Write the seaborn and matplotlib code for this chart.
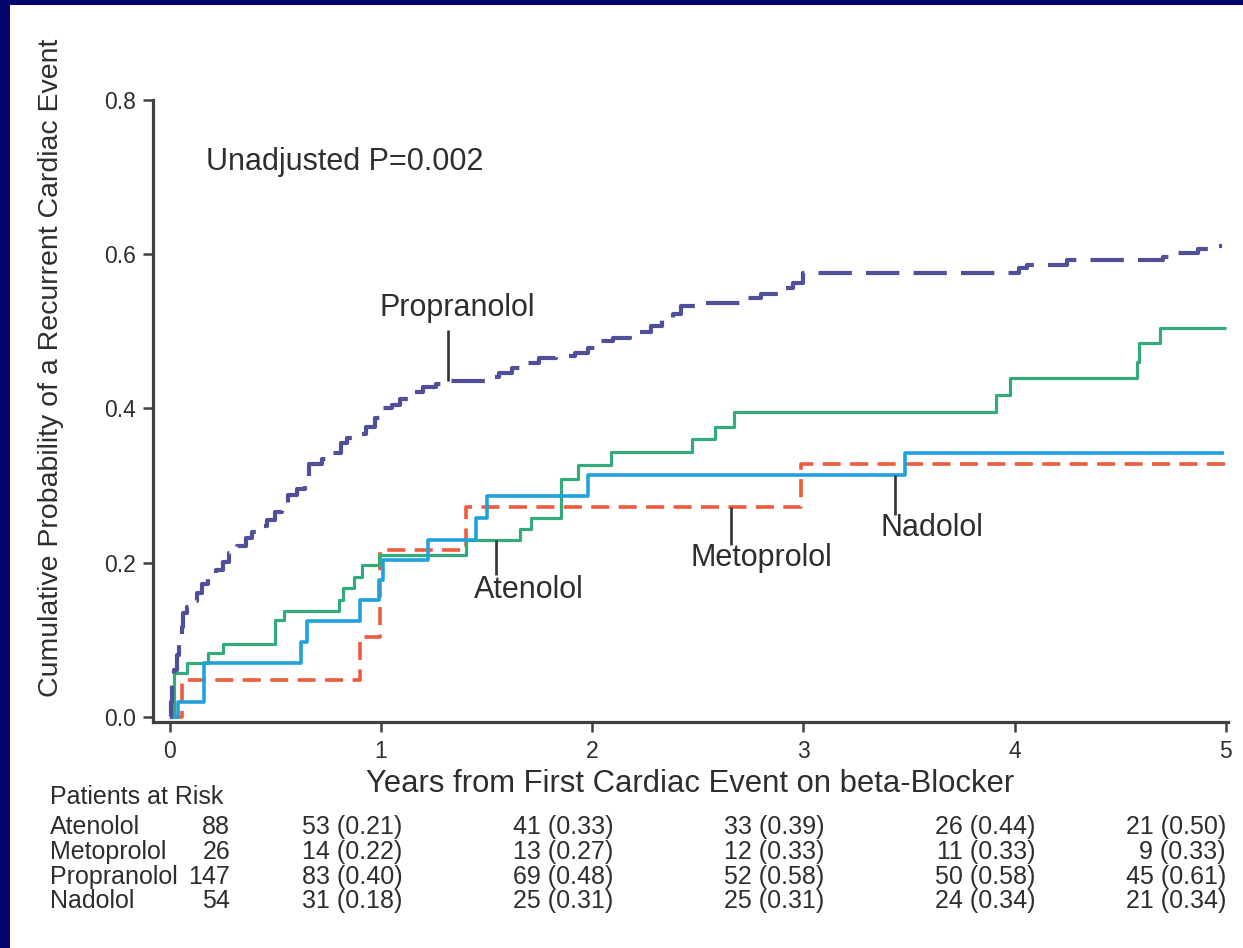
import matplotlib
matplotlib.use("Agg")
import matplotlib.pyplot as plt
import matplotlib.patches as mpatches
import matplotlib.transforms as mtransforms
import pandas as pd
import seaborn as sns

# Cumulative probability of a recurrent cardiac event (step after each event time, years)
atenolol_t = [0, 0.02, 0.08, 0.18, 0.25, 0.50, 0.54, 0.80, 0.82, 0.87, 0.91, 0.99,
              1.40, 1.66, 1.71, 1.85, 1.93, 2.09, 2.47, 2.58, 2.67, 3.91, 3.98,
              4.58, 4.59, 4.69, 5.0]
atenolol_p = [0, 0.057, 0.070, 0.083, 0.095, 0.126, 0.138, 0.152, 0.167, 0.182, 0.197, 0.210,
              0.230, 0.244, 0.258, 0.309, 0.327, 0.344, 0.360, 0.376, 0.396, 0.418, 0.440,
              0.460, 0.485, 0.505, 0.505]

metoprolol_t = [0, 0.057, 0.90, 0.995, 1.40, 2.99, 5.0]
metoprolol_p = [0, 0.048, 0.104, 0.216, 0.272, 0.328, 0.328]

nadolol_t = [0, 0.04, 0.16, 0.62, 0.65, 0.90, 0.99, 1.01, 1.22, 1.45, 1.50, 1.98, 3.48, 4.99]
nadolol_p = [0, 0.019, 0.070, 0.097, 0.125, 0.152, 0.178, 0.204, 0.230, 0.258, 0.286, 0.314, 0.342, 0.342]

propranolol_t = [0, 0.005, 0.01, 0.02, 0.035, 0.045, 0.055, 0.063, 0.08, 0.10, 0.13, 0.15,
                 0.18, 0.22, 0.25, 0.28, 0.32, 0.36, 0.39, 0.43, 0.46, 0.50, 0.53, 0.56,
                 0.60, 0.64, 0.66, 0.72, 0.76, 0.81, 0.84, 0.88, 0.93, 0.97, 1.00, 1.05,
                 1.09, 1.14, 1.20, 1.26, 1.30, 1.52, 1.56, 1.62, 1.69, 1.75, 1.83, 1.92,
                 1.98, 2.03, 2.10, 2.18, 2.28, 2.33, 2.38, 2.42, 2.53, 2.73, 2.80, 2.90,
                 2.95, 3.00, 4.02, 4.06, 4.25, 4.70, 4.77, 4.87, 4.95, 4.98]
propranolol_p = [0, 0.020, 0.048, 0.061, 0.080, 0.095, 0.117, 0.135, 0.143, 0.150, 0.161, 0.172,
                 0.182, 0.190, 0.201, 0.212, 0.222, 0.232, 0.240, 0.247, 0.256, 0.266, 0.278, 0.288,
                 0.295, 0.310, 0.328, 0.335, 0.342, 0.355, 0.362, 0.367, 0.376, 0.388, 0.400, 0.405,
                 0.412, 0.421, 0.428, 0.432, 0.436, 0.441, 0.446, 0.452, 0.459, 0.465, 0.468, 0.472,
                 0.478, 0.487, 0.492, 0.499, 0.507, 0.515, 0.523, 0.533, 0.537, 0.543, 0.548, 0.556,
                 0.563, 0.576, 0.582, 0.586, 0.592, 0.597, 0.601, 0.607, 0.611, 0.611]

# Patients at risk table: baseline count, then count (cumulative probability) at years 1-5
drugs = ["Atenolol", "Metoprolol", "Propranolol", "Nadolol"]
baseline_n = [88, 26, 147, 54]
atenolol_risk = [53, 41, 33, 26, 21]
atenolol_prob = [0.21, 0.33, 0.39, 0.44, 0.50]
metoprolol_risk = [14, 13, 12, 11, 9]
metoprolol_prob = [0.22, 0.27, 0.33, 0.33, 0.33]
propranolol_risk = [83, 69, 52, 50, 45]
propranolol_prob = [0.40, 0.48, 0.58, 0.58, 0.61]
nadolol_risk = [31, 25, 25, 24, 21]
nadolol_prob = [0.18, 0.31, 0.31, 0.34, 0.34]

x_ticks = [0, 1, 2, 3, 4, 5]
y_ticks = [0.0, 0.2, 0.4, 0.6, 0.8]

sns.set_theme(style="ticks")
plt.rcParams["font.family"] = ["Liberation Sans", "DejaVu Sans"]
TXT = "#2e2e2e"
SPINE = "#404040"
NAVY = "#03036c"

fig = plt.figure(figsize=(12.43, 9.48), dpi=100, facecolor="white")
# navy frame along the top and left edges
fig.patches.append(mpatches.Rectangle((0, 0), 10 / 1243, 1, transform=fig.transFigure,
                                      facecolor=NAVY, edgecolor="none"))
fig.patches.append(mpatches.Rectangle((0, 1 - 5 / 948), 1, 5 / 948, transform=fig.transFigure,
                                      facecolor=NAVY, edgecolor="none"))

ax = fig.add_axes([153 / 1243, 1 - 722 / 948, (1228 - 153) / 1243, (722 - 100) / 948])
ax.set_facecolor("none")

curves = [
    ("Metoprolol", metoprolol_t, metoprolol_p, "#ee5a3e", 2.6, (0, (5.0, 2.6))),
    ("Atenolol", atenolol_t, atenolol_p, "#35aa7a", 2.3, "-"),
    ("Nadolol", nadolol_t, nadolol_p, "#1fa2dc", 2.6, "-"),
    ("Propranolol", propranolol_t, propranolol_p, "#50509a", 3.0, (0, (8.0, 3.4))),
]
for name, t, p, color, lw, ls in curves:
    df = pd.DataFrame({"years": t, "prob": p})
    sns.lineplot(data=df, x="years", y="prob", ax=ax, color=color, linewidth=lw,
                 linestyle=ls, drawstyle="steps-post", estimator=None, sort=False,
                 errorbar=None, dash_capstyle="butt", solid_capstyle="butt")

ax.set_xlim(-0.08, 5.01)
ax.set_ylim(-0.0065, 0.8)
ax.set_xticks(x_ticks)
ax.set_xticklabels([str(v) for v in x_ticks])
ax.set_yticks(y_ticks)
ax.set_yticklabels([f"{v:.1f}" for v in y_ticks])
sns.despine(ax=ax)
for s in ["left", "bottom"]:
    ax.spines[s].set_linewidth(2.3)
    ax.spines[s].set_color(SPINE)
ax.tick_params(axis="both", direction="out", length=7, width=1.8, color=SPINE,
               labelsize=16.5, labelcolor=TXT)
ax.tick_params(axis="y", pad=5)
ax.tick_params(axis="x", pad=6)

ax.set_xlabel("Years from First Cardiac Event on beta-Blocker", fontsize=22.3, color=TXT,
              labelpad=4)
ax.set_ylabel("Cumulative Probability of a Recurrent Cardiac Event", fontsize=20.5, color=TXT)
ax.yaxis.set_label_coords(-0.083, 0.57)

ax.text(0.17, 0.72, "Unadjusted P=0.002", fontsize=22, color=TXT, ha="left", va="center")

# Curve labels with leader lines
leaders = [
    ("Propranolol", 1.316, 0.436, 0.502, 1.36, 0.530),
    ("Atenolol", 1.544, 0.230, 0.184, 1.70, 0.165),
    ("Metoprolol", 2.656, 0.272, 0.223, 2.80, 0.206),
    ("Nadolol", 3.433, 0.314, 0.262, 3.61, 0.245),
]
for label, lx, y0, y1, tx, ty in leaders:
    ax.plot([lx, lx], [y0, y1], color="#333333", linewidth=1.9, solid_capstyle="butt")
    ax.text(tx, ty, label, fontsize=22, color=TXT, ha="center", va="center")

# Patients at risk table below the axis
trans = mtransforms.blended_transform_factory(ax.transData, fig.transFigure)
fig.text(50 / 1243, 1 - 797 / 948, "Patients at Risk", fontsize=18, color=TXT,
         ha="left", va="center")
row_y = [827, 852, 877, 901]
col_x = [1.10, 2.10, 3.10, 4.10, 5.0]
risk = [atenolol_risk, metoprolol_risk, propranolol_risk, nadolol_risk]
probs = [atenolol_prob, metoprolol_prob, propranolol_prob, nadolol_prob]
for i, name in enumerate(drugs):
    yf = 1 - row_y[i] / 948
    fig.text(50 / 1243, yf, name, fontsize=18, color=TXT, ha="left", va="center")
    fig.text(230 / 1243, yf, str(baseline_n[i]), fontsize=18, color=TXT, ha="right", va="center")
    for j, cx in enumerate(col_x):
        ax.text(cx, yf, f"{risk[i][j]} ({probs[i][j]:.2f})", transform=trans, fontsize=18,
                color=TXT, ha="right", va="center", clip_on=False)

fig.savefig("out.png", dpi=100, facecolor="white")
